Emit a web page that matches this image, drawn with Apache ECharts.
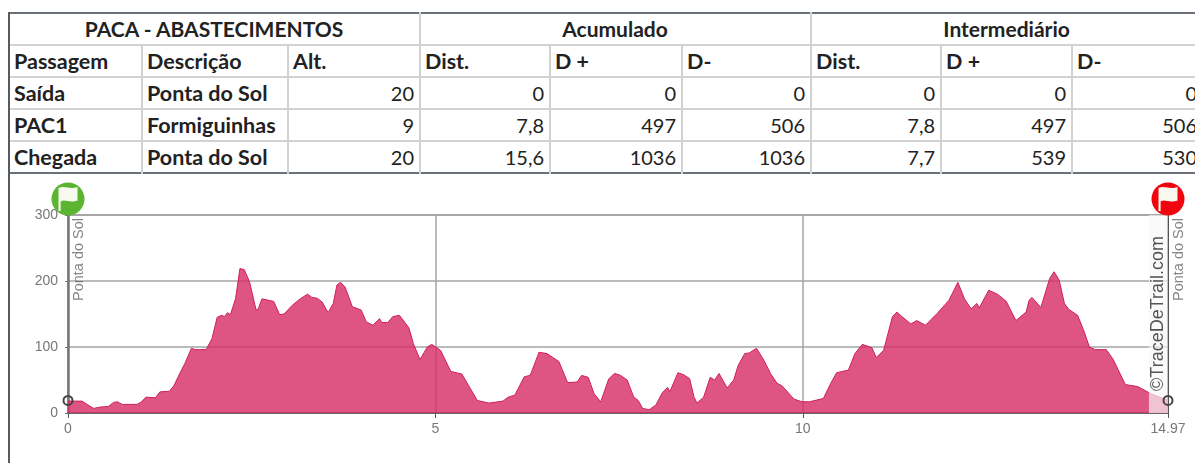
<!DOCTYPE html>
<html>
<head>
<meta charset="utf-8">
<title>PACA - Abastecimentos</title>
<script src="https://cdn.jsdelivr.net/npm/echarts@6/dist/echarts.min.js"></script>
<style>
  html, body { margin: 0; padding: 0; background: #fff; overflow: hidden; }
  #page { position: relative; width: 1195px; height: 463px; overflow: hidden; }
  #grafico { position: absolute; left: 0; top: 0; width: 1195px; height: 463px; }
  #margen { position: absolute; left: 8px; top: 12px; width: 2px; height: 451px; background: #555b63; }
  #tabla {
    position: absolute; left: 8px; top: 12px; width: 1194px; table-layout: fixed;
    border-collapse: collapse; background: #fff;
    border-top: 2px solid #6a7078; border-bottom: 2px solid #6a7078;
    font-family: Lato, "Open Sans", sans-serif; font-size: 20px; color: #222;
  }
  #tabla td {
    border: 2px solid #d2d2d2; padding: 0 5px 0 4px; height: 30px; line-height: 26px;
    white-space: nowrap; overflow: hidden;
  }
  #tabla tr:first-child td { height: 30px; border-top: 0; }
  #tabla tr:last-child td { border-bottom: 0; }
  #tabla td.tit { text-align: center; font-weight: bold; font-size: 21px; }
  #tabla td.cab { font-weight: bold; font-size: 21.5px; }
  #tabla td.num { text-align: right; }
</style>
</head>
<body>
<div id="page">
  <div id="grafico"></div>
  <table id="tabla"></table>
  <div id="margen"></div>
</div>
<script>
const titulos = [["PACA - ABASTECIMENTOS", 3], ["Acumulado", 3], ["Intermediário", 3]];
const cabecalhos = ["Passagem", "Descrição", "Alt.", "Dist.", "D +", "D-", "Dist.", "D +", "D-"];
const passagens = [
  ["Saída", "Ponta do Sol", "20", "0", "0", "0", "0", "0", "0"],
  ["PAC1", "Formiguinhas", "9", "7,8", "497", "506", "7,8", "497", "506"],
  ["Chegada", "Ponta do Sol", "20", "15,6", "1036", "1036", "7,7", "539", "530"]
];
const larguras = [133, 146, 132, 130, 132, 129, 130, 131, 131];

const distancia = [0,0.19,0.26,0.35,0.44,0.55,0.62,0.67,0.74,0.94,1.0,1.06,1.19,1.25,1.38,1.44,1.53,1.59,1.68,1.73,1.88,1.96,2.03,2.09,2.13,2.17,2.21,2.28,2.34,2.40,2.47,2.56,2.59,2.64,2.80,2.88,2.94,3.05,3.16,3.26,3.32,3.39,3.46,3.54,3.61,3.66,3.71,3.77,3.87,3.99,4.06,4.15,4.24,4.27,4.35,4.42,4.51,4.64,4.70,4.79,4.89,4.95,5.07,5.21,5.36,5.45,5.57,5.73,5.92,5.99,6.08,6.21,6.29,6.41,6.52,6.68,6.80,6.93,6.99,7.08,7.16,7.25,7.36,7.44,7.52,7.61,7.70,7.76,7.82,7.91,8.0,8.09,8.16,8.19,8.30,8.38,8.46,8.52,8.56,8.65,8.74,8.80,8.86,8.97,9.06,9.12,9.21,9.27,9.37,9.47,9.56,9.65,9.72,9.88,9.99,10.09,10.28,10.38,10.46,10.62,10.71,10.81,10.94,11.0,11.10,11.22,11.28,11.34,11.47,11.55,11.67,11.83,11.99,12.11,12.20,12.29,12.37,12.40,12.53,12.65,12.77,12.90,13.04,13.08,13.12,13.24,13.36,13.42,13.49,13.56,13.62,13.74,13.83,13.90,13.98,14.13,14.22,14.39,14.56,14.74,14.97];
const altitude = [18,18,13,7,9,10,16,17,13,13,17,24,23,32,33,41,62,75,98,96,96,113,145,148,146,152,149,173,219,217,199,156,158,173,169,149,150,163,173,180,175,174,168,152,166,194,198,191,161,156,138,133,143,137,137,146,148,129,105,81,100,104,95,63,59,42,19,15,18,24,27,55,57,92,90,78,46,47,57,54,29,17,52,60,57,50,24,19,7,5,12,31,39,32,61,58,52,24,15,24,54,50,60,38,50,72,90,91,98,80,60,45,41,21,17,17,22,45,61,65,90,104,99,84,95,146,153,147,135,140,133,151,171,198,173,158,166,159,186,180,169,140,153,171,175,160,204,214,201,166,157,148,123,100,96,96,82,43,40,29,19];

const marcasDist = [0, 14.97];
const marcasAlt = [19, 19];
const eixoTopo = 300;
const nomePonto = "Ponta do Sol";
const marcaAgua = "©TraceDeTrail.com";
const coresBandeira = ["#5cb531", "#f0050f"];

const tabla = document.getElementById("tabla");
let html = "<colgroup>" + larguras.map(l => `<col style="width:${l}px">`).join("") + "</colgroup>";
html += "<tr>" + titulos.map(t => `<td class="tit" colspan="${t[1]}">${t[0]}</td>`).join("") + "</tr>";
html += "<tr>" + cabecalhos.map(c => `<td class="cab">${c}</td>`).join("") + "</tr>";
passagens.forEach(fila => {
  html += "<tr>" + fila.map((v, i) => `<td class="${i < 2 ? "cab" : "num"}">${v}</td>`).join("") + "</tr>";
});
tabla.innerHTML = html;

const bandeira = "path://M2,2 C8,-1 12,4 20,1 L20,15 C12,18 8,13 4,16 L4,26 L2,26 Z";
const fonte = "Liberation Sans, Arial, sans-serif";
const grafico = echarts.init(document.getElementById("grafico"));

grafico.setOption({
  animation: false,
  grid: { left: 68, top: 215, width: 1100, height: 198, show: true, borderColor: "#666", borderWidth: 1, backgroundColor: "transparent" },
  xAxis: {
    type: "value", min: 0, max: 14.97, interval: 5,
    axisLine: { lineStyle: { color: "#555", width: 1.5 } },
    axisTick: { length: 5, lineStyle: { color: "#555" } },
    axisLabel: { color: "#777", fontSize: 14, fontFamily: fonte, margin: 9, showMaxLabel: true },
    splitLine: { show: true, lineStyle: { color: "#a5a5a5", width: 1.5 } }
  },
  yAxis: [
    {
      type: "value", min: 0, max: eixoTopo, interval: 100,
      axisLine: { show: true, lineStyle: { color: "#777", width: 2.5 } },
      axisTick: { show: true, length: 3, lineStyle: { color: "#777" } },
      axisLabel: { color: "#777", fontSize: 14, fontFamily: fonte, margin: 10 },
      splitLine: { lineStyle: { color: "#a5a5a5", width: 1.5 } }
    },
    {
      type: "value", min: 0, max: eixoTopo, interval: 100, position: "right",
      axisLine: { show: true, lineStyle: { color: "#555", width: 2 } },
      axisTick: { show: false }, axisLabel: { show: false }, splitLine: { show: false }
    }
  ],
  series: [
    {
      type: "line", data: distancia.map((d, i) => [d, altitude[i]]),
      symbol: "none", z: 2,
      lineStyle: { color: "#cf1f57", width: 1 },
      areaStyle: { color: "#d72f68", opacity: 0.82 },
      markArea: {
        silent: true, z: 6,
        itemStyle: { color: "rgba(248,248,248,0.68)" },
        data: [[{ xAxis: 14.71, yAxis: 0 }, { xAxis: 14.97, yAxis: eixoTopo }]]
      }
    },
    {
      type: "scatter", z: 8, clip: false, silent: true,
      data: marcasDist.map((d, i) => [d, marcasAlt[i]]),
      symbol: "circle", symbolSize: 9,
      itemStyle: { color: "transparent", borderColor: "#444", borderWidth: 2, opacity: 1 }
    },
    {
      type: "scatter", z: 4, clip: false, silent: true,
      data: marcasDist.map(d => [d, eixoTopo]),
      symbolSize: 0.1, itemStyle: { color: "transparent" },
      label: {
        show: true, position: "inside", formatter: nomePonto, rotate: 90,
        align: "right", verticalAlign: "top", offset: [-3, 3],
        color: "#666", fontSize: 14.5, fontFamily: fonte
      }
    },
    {
      type: "scatter", z: 9, clip: false, silent: true,
      data: marcasDist.map((d, i) => ({ value: [d, eixoTopo], itemStyle: { color: coresBandeira[i], opacity: 1 } })),
      symbol: "circle", symbolSize: 33, symbolOffset: [0, -16]
    },
    {
      type: "scatter", z: 10, clip: false, silent: true,
      data: marcasDist.map(d => [d, eixoTopo]),
      symbol: bandeira, symbolSize: [19, 24], symbolOffset: [0, -16],
      itemStyle: { color: "#f8faf0", opacity: 1 }
    }
  ],
  graphic: [{
    type: "text", z: 7, left: 1149, top: 236, silent: true, rotation: Math.PI / 2,
    style: { text: marcaAgua, fill: "#555", fontSize: 18, fontFamily: fonte }
  }]
});
</script>
</body>
</html>
